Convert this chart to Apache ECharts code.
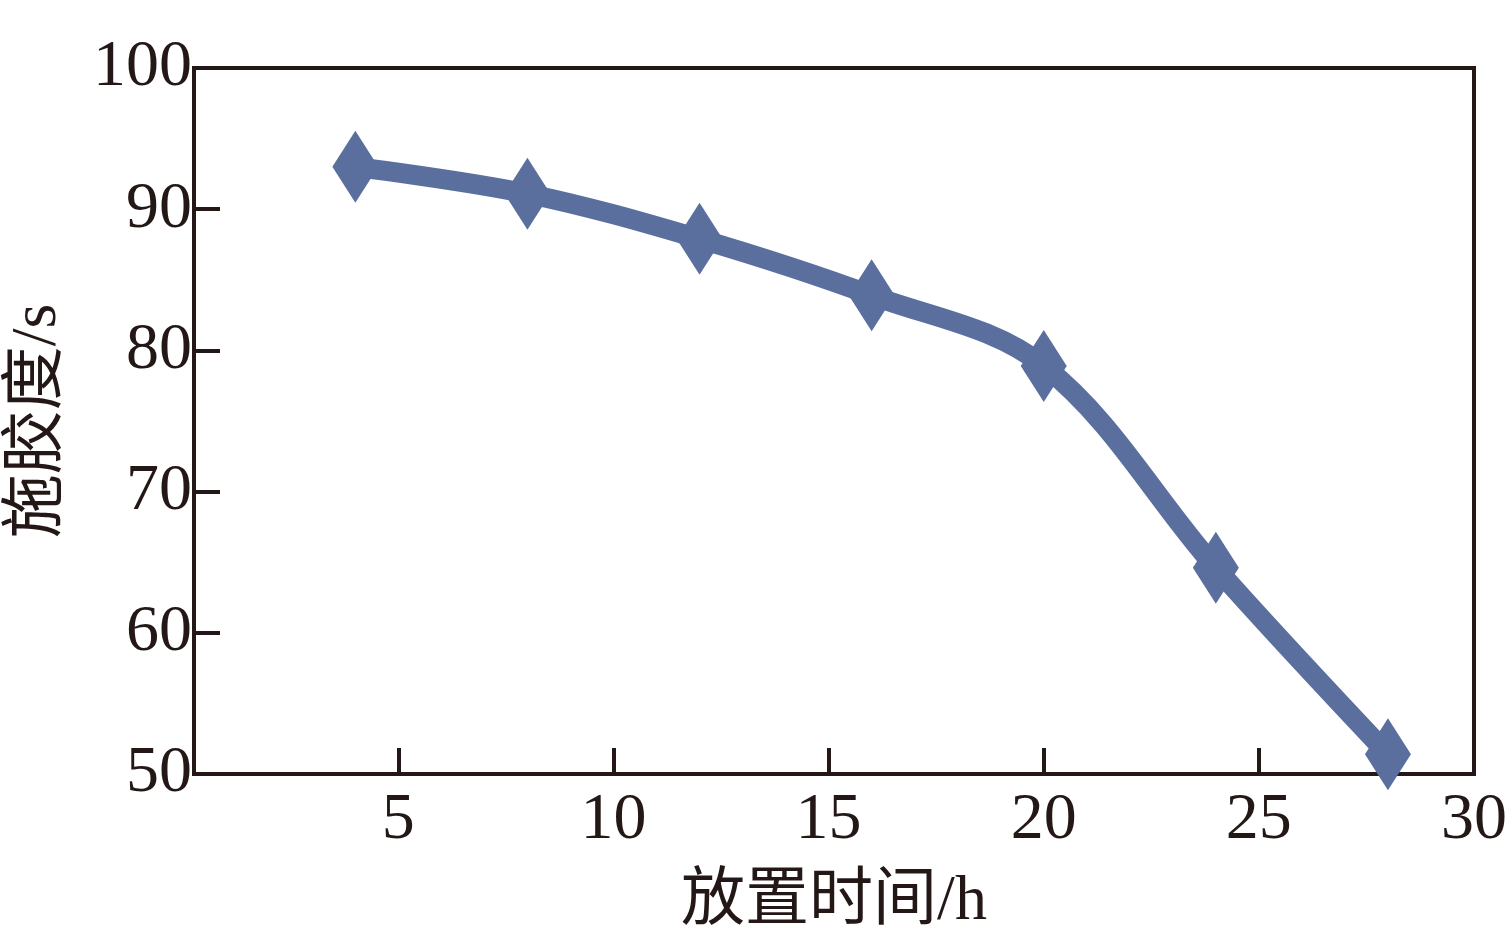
<!DOCTYPE html>
<html><head><meta charset="utf-8">
<script src="https://cdn.jsdelivr.net/npm/echarts@6/dist/echarts.min.js"></script>
<style>html,body{margin:0;padding:0;background:#fff}#c{width:1510px;height:926px}</style>
</head><body><div id="c"></div>
<script>
const hours = [4, 8, 12, 16, 20, 24, 28];
const sizing = [93.0, 91.1, 87.9, 83.9, 78.9, 64.6, 51.4];
const xTicks = [5, 10, 15, 20, 25, 30];
const xTitle = '放置时间/h';
const yTitle = '施胶度/s';
const ff = '"Liberation Serif","Times New Roman","Noto Sans CJK SC",serif';
const axisColor = '#231815';
const chart = echarts.init(document.getElementById('c'));
chart.setOption({
  animation: false,
  grid: {left: 194, right: 36, top: 68, bottom: 152, containLabel: false, outerBoundsMode: 'none',
    show: true, borderColor: axisColor, borderWidth: 4, backgroundColor: 'transparent'},
  xAxis: {
    type: 'value', min: 0.25, max: 30,
    name: xTitle, nameLocation: 'middle', nameGap: 96,
    nameTextStyle: {fontFamily: ff, fontSize: 64, color: axisColor},
    axisLine: {lineStyle: {color: axisColor, width: 4}},
    axisTick: {inside: true, length: 26, customValues: xTicks, lineStyle: {color: axisColor, width: 4}},
    axisLabel: {fontFamily: ff, fontSize: 66, color: axisColor, margin: 14, customValues: xTicks},
    splitLine: {show: false}
  },
  yAxis: {
    type: 'value', min: 50, max: 100, interval: 10,
    name: yTitle, nameLocation: 'middle', nameGap: 124, nameRotate: 90,
    nameTextStyle: {fontFamily: ff, fontSize: 64, color: axisColor},
    axisLine: {lineStyle: {color: axisColor, width: 4}},
    axisTick: {inside: true, length: 26, lineStyle: {color: axisColor, width: 4}},
    axisLabel: {fontFamily: ff, fontSize: 66, color: axisColor, margin: 2},
    splitLine: {show: false}
  },
  series: [{
    type: 'line', data: hours.map((h, i) => [h, sizing[i]]),
    smooth: 0.35, clip: false,
    symbol: 'diamond', symbolSize: [46, 72],
    lineStyle: {color: '#5b6f9f', width: 20},
    itemStyle: {color: '#5b6f9f'}
  }]
});
</script></body></html>
